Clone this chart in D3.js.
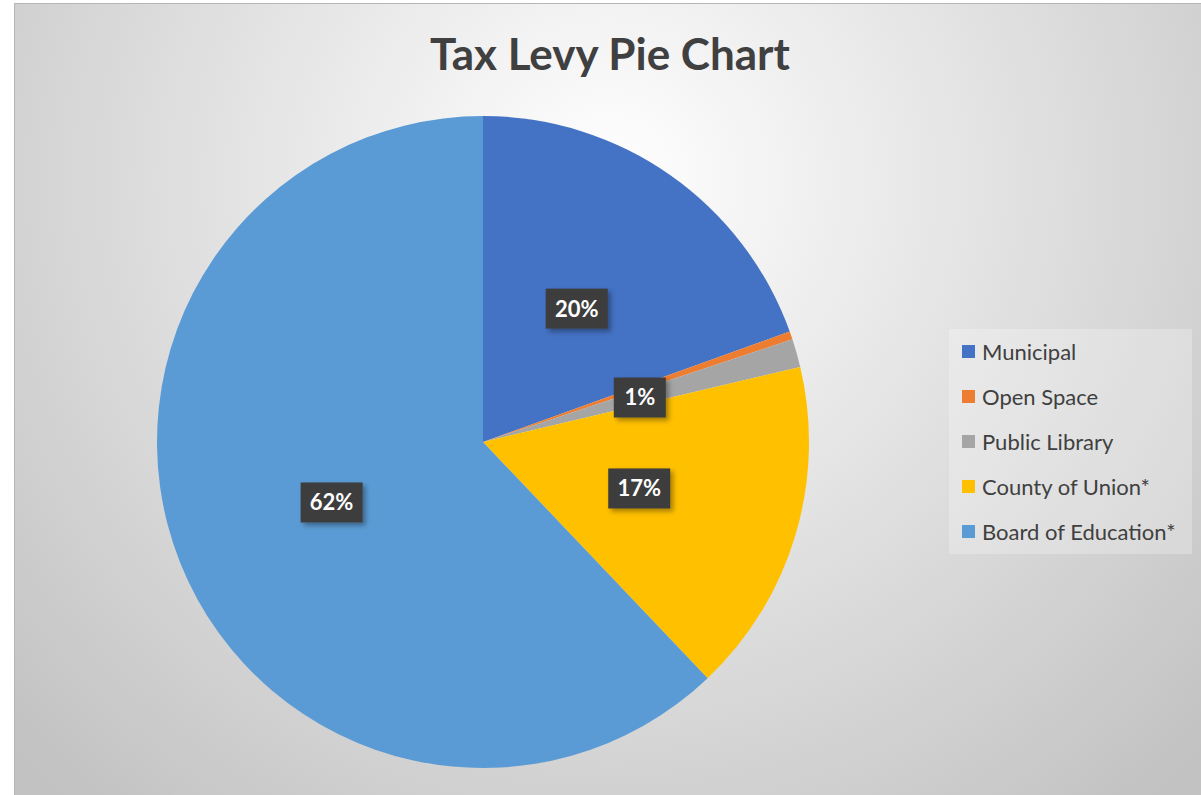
<!DOCTYPE html>
<html>
<head>
<meta charset="utf-8">
<script src="https://cdn.jsdelivr.net/npm/d3@7"></script>
<style>
  body { margin: 0; background: #fff; }
  svg { display: block; font-family: Lato, "Open Sans", sans-serif; }
</style>
</head>
<body>
<div id="chart"></div>
<script>
// Data (percent of levy)
var categories = ["Municipal", "Open Space", "Public Library", "County of Union*", "Board of Education*"];
var values = [19.5, 0.4, 1.4, 16.6, 62.1];
var colours = ["#4472c4", "#ed7d31", "#a5a5a5", "#ffc000", "#5b9bd5"];

var width = 1201;
var height = 795;
var cx = 483, cy = 442, radius = 326;

var svg = d3.select("#chart").append("svg")
    .attr("width", width)
    .attr("height", height);

var defs = svg.append("defs");

// Light centre, grey edges
var grad = defs.append("radialGradient")
    .attr("id", "bg")
    .attr("gradientUnits", "userSpaceOnUse")
    .attr("cx", 610).attr("cy", 180).attr("r", 820);
grad.append("stop").attr("offset", "0%").attr("stop-color", "#ffffff");
grad.append("stop").attr("offset", "100%").attr("stop-color", "#c2c2c2");

var shadow = defs.append("filter")
    .attr("id", "shadow")
    .attr("x", "-30%").attr("y", "-30%")
    .attr("width", "170%").attr("height", "170%");
shadow.append("feDropShadow")
    .attr("dx", 3).attr("dy", 3)
    .attr("stdDeviation", 2.5)
    .attr("flood-color", "#000")
    .attr("flood-opacity", 0.35);

// Chart area
svg.append("rect")
    .attr("x", 14.5).attr("y", 3.5)
    .attr("width", width - 14)
    .attr("height", height - 3)
    .attr("fill", "url(#bg)")
    .attr("stroke", "#b5b5b5")
    .attr("stroke-width", 1);

// Title
svg.append("text")
    .attr("x", 610)
    .attr("y", 70)
    .attr("text-anchor", "middle")
    .style("font-size", "44px")
    .style("font-weight", "bold")
    .style("fill", "#404040")
    .text("Tax Levy Pie Chart");

var total = d3.sum(values);

var pie = d3.pie()
    .sort(null)
    .value(function(d) { return d; });

var arc = d3.arc()
    .innerRadius(0)
    .outerRadius(radius);

var labelArc = d3.arc()
    .innerRadius(radius * 0.5)
    .outerRadius(radius * 0.5);

var arcs = pie(values);

var g = svg.append("g")
    .attr("transform", "translate(" + cx + "," + cy + ")");

g.selectAll("path")
    .data(arcs)
    .enter().append("path")
    .attr("d", arc)
    .style("fill", function(d, i) { return colours[i]; });

// Data labels: dark boxes with white percentage
var labels = g.selectAll("g.lbl")
    .data(arcs.filter(function(d) { return Math.round(100 * d.value / total) > 0; }))
    .enter().append("g")
    .attr("class", "lbl")
    .attr("transform", function(d) {
      var c = labelArc.centroid(d);
      return "translate(" + c[0] + "," + c[1] + ")";
    });

labels.append("rect")
    .attr("x", function(d) { return Math.round(100 * d.value / total) < 10 ? -26 : -31; })
    .attr("y", -20)
    .attr("width", function(d) { return Math.round(100 * d.value / total) < 10 ? 52 : 62; })
    .attr("height", 40)
    .style("fill", "#3d3d3d")
    .attr("filter", "url(#shadow)");

labels.append("text")
    .attr("text-anchor", "middle")
    .attr("dy", "0.36em")
    .style("font-size", "22px")
    .style("font-weight", "bold")
    .style("fill", "#fff")
    .text(function(d) { return Math.round(100 * d.value / total) + "%"; });

// Legend
var li = { x: 949, y: 329, w: 243, h: 225, row: 45 };

var legend = svg.append("g");

legend.append("rect")
    .attr("x", li.x).attr("y", li.y)
    .attr("width", li.w).attr("height", li.h)
    .style("fill", "#ffffff")
    .style("fill-opacity", 0.25);

var item = legend.selectAll("g.item")
    .data(categories)
    .enter().append("g")
    .attr("class", "item")
    .attr("transform", function(d, i) {
      return "translate(" + (li.x + 13) + "," + (li.y + 23 + i * li.row) + ")";
    });

item.append("rect")
    .attr("x", 0).attr("y", -7)
    .attr("width", 13).attr("height", 13)
    .style("fill", function(d, i) { return colours[i]; });

item.append("text")
    .attr("x", 20)
    .attr("dy", "0.36em")
    .style("font-size", "22px")
    .style("fill", "#404040")
    .text(function(d) { return d; });
</script>
</body>
</html>
